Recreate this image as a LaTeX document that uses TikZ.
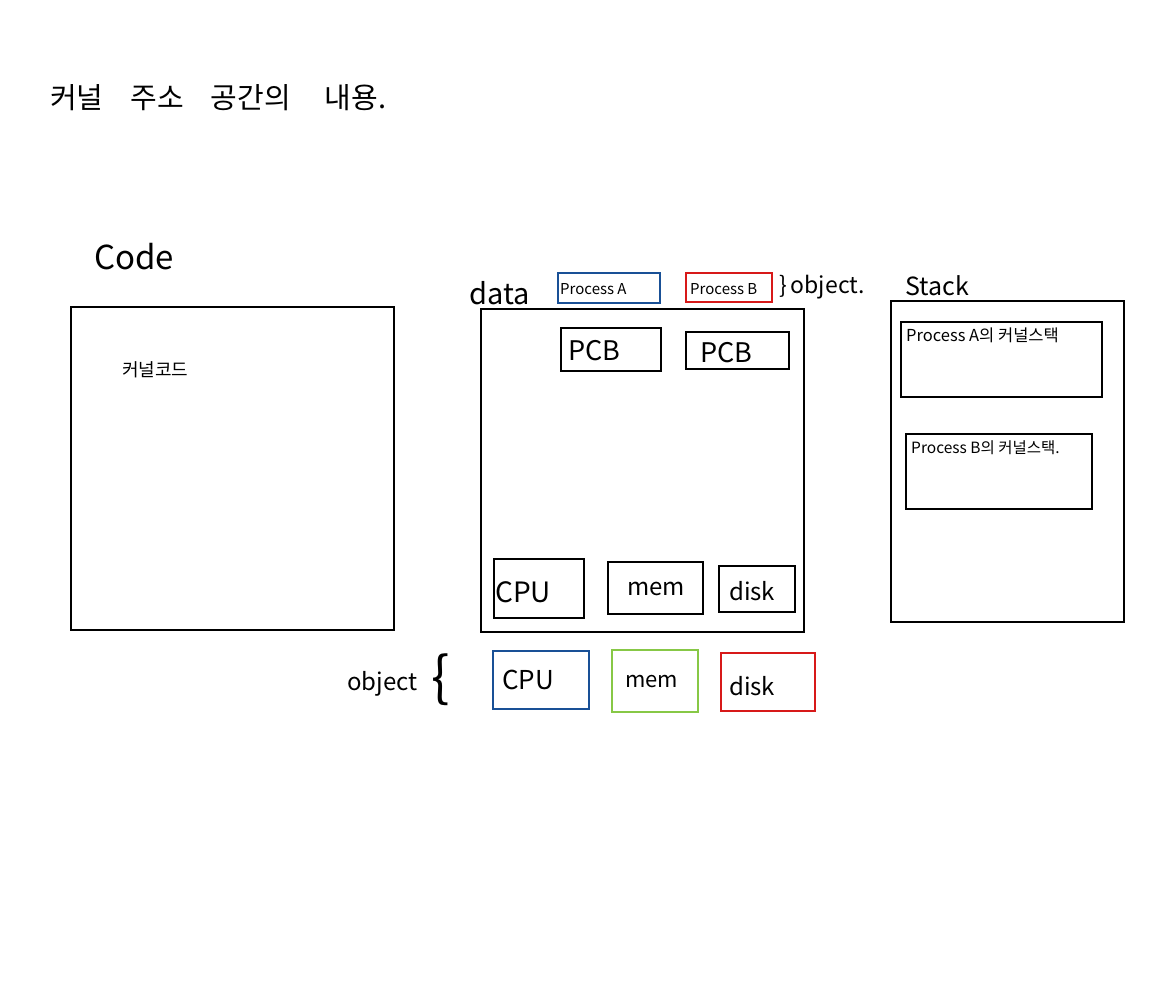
\documentclass[tikz,border=0pt]{standalone}
\usepackage{fontspec}
\setmainfont{Noto Sans CJK KR}
\usetikzlibrary{fit}
\definecolor{pblue}{RGB}{25,80,150}
\definecolor{pred}{RGB}{215,25,25}
\definecolor{pgreen}{RGB}{135,200,70}
\tikzset{
  box/.style={draw=black, line width=1.5pt, inner sep=0pt},
  lbl/.style={inner sep=0pt, anchor=west, text=black},
  fs/.style={font=\fontsize{#1}{#1}\selectfont}
}
\begin{document}
\begin{tikzpicture}[x=1pt,y=-1pt]
\useasboundingbox (0,0) rectangle (1165,1000);
\fill[white] (0,0) rectangle (1165,1000);
% title
\node[lbl, fs=29] (title) at (50,98) {커널\hspace{27pt}주소\hspace{27pt}공간의\hspace{34pt}내용.};
% code
\node[lbl, fs=33] (codelbl) at (94,257) {Code};
\node[box, fit={(71,307) (394,630)}] (code) {};
\node[lbl, fs=18] (kcode) at (122,370) {커널코드};
% data
\node[lbl, fs=29] (datalbl) at (469,293) {data};
\node[box, fit={(481,309) (804,632)}] (data) {};
\node[box, draw=pblue, fit={(558,273) (660,303)}] (pa) {};
\node[lbl, fs=15] at (560,289) {Process A};
\node[box, draw=pred, fit={(686,273) (772,302)}] (pb) {};
\node[lbl, fs=15] at (690,289) {Process B};
\node[lbl, fs=23] (objtop) at (779,287) {\}\,object.};
\node[box, fit={(561,328) (661,371)}] (pcb1) {};
\node[lbl, fs=27] at (568,351) {PCB};
\node[box, fit={(686,332) (789,369)}] (pcb2) {};
\node[lbl, fs=27] at (700,353) {PCB};
\node[box, fit={(494,559) (584,618)}] (cpu1) {};
\node[lbl, fs=28] at (495,592) {CPU};
\node[box, fit={(608,562) (703,614)}] (mem1) {};
\node[lbl, fs=24] at (627,589) {mem};
\node[box, fit={(719,566) (795,612)}] (disk1) {};
\node[lbl, fs=24] at (729,591) {disk};
% stack
\node[lbl, fs=25] (stacklbl) at (905,286) {Stack};
\node[box, fit={(891,301) (1124,622)}] (stack) {};
\node[box, fit={(901,322) (1102,397)}] (sa) {};
\node[lbl, fs=16.5] at (906,335) {Process A의 커널스택};
\node[box, fit={(906,434) (1092,509)}] (sb) {};
\node[lbl, fs=15.5] at (911,448) {Process B의 커널스택.};
% bottom objects
\node[lbl, fs=24] (objbot) at (347,684) {object};
\node[lbl, fs=54] (brace) at (431,680) {\{};
\node[box, draw=pblue, fit={(493,651) (589,709)}] (cpu2) {};
\node[lbl, fs=26] at (502,680) {CPU};
\node[box, draw=pgreen, fit={(612,650) (698,712)}] (mem2) {};
\node[lbl, fs=22] at (625,682) {mem};
\node[box, draw=pred, fit={(721,653) (815,711)}] (disk2) {};
\node[lbl, fs=24] at (729,686) {disk};
\end{tikzpicture}
\end{document}
